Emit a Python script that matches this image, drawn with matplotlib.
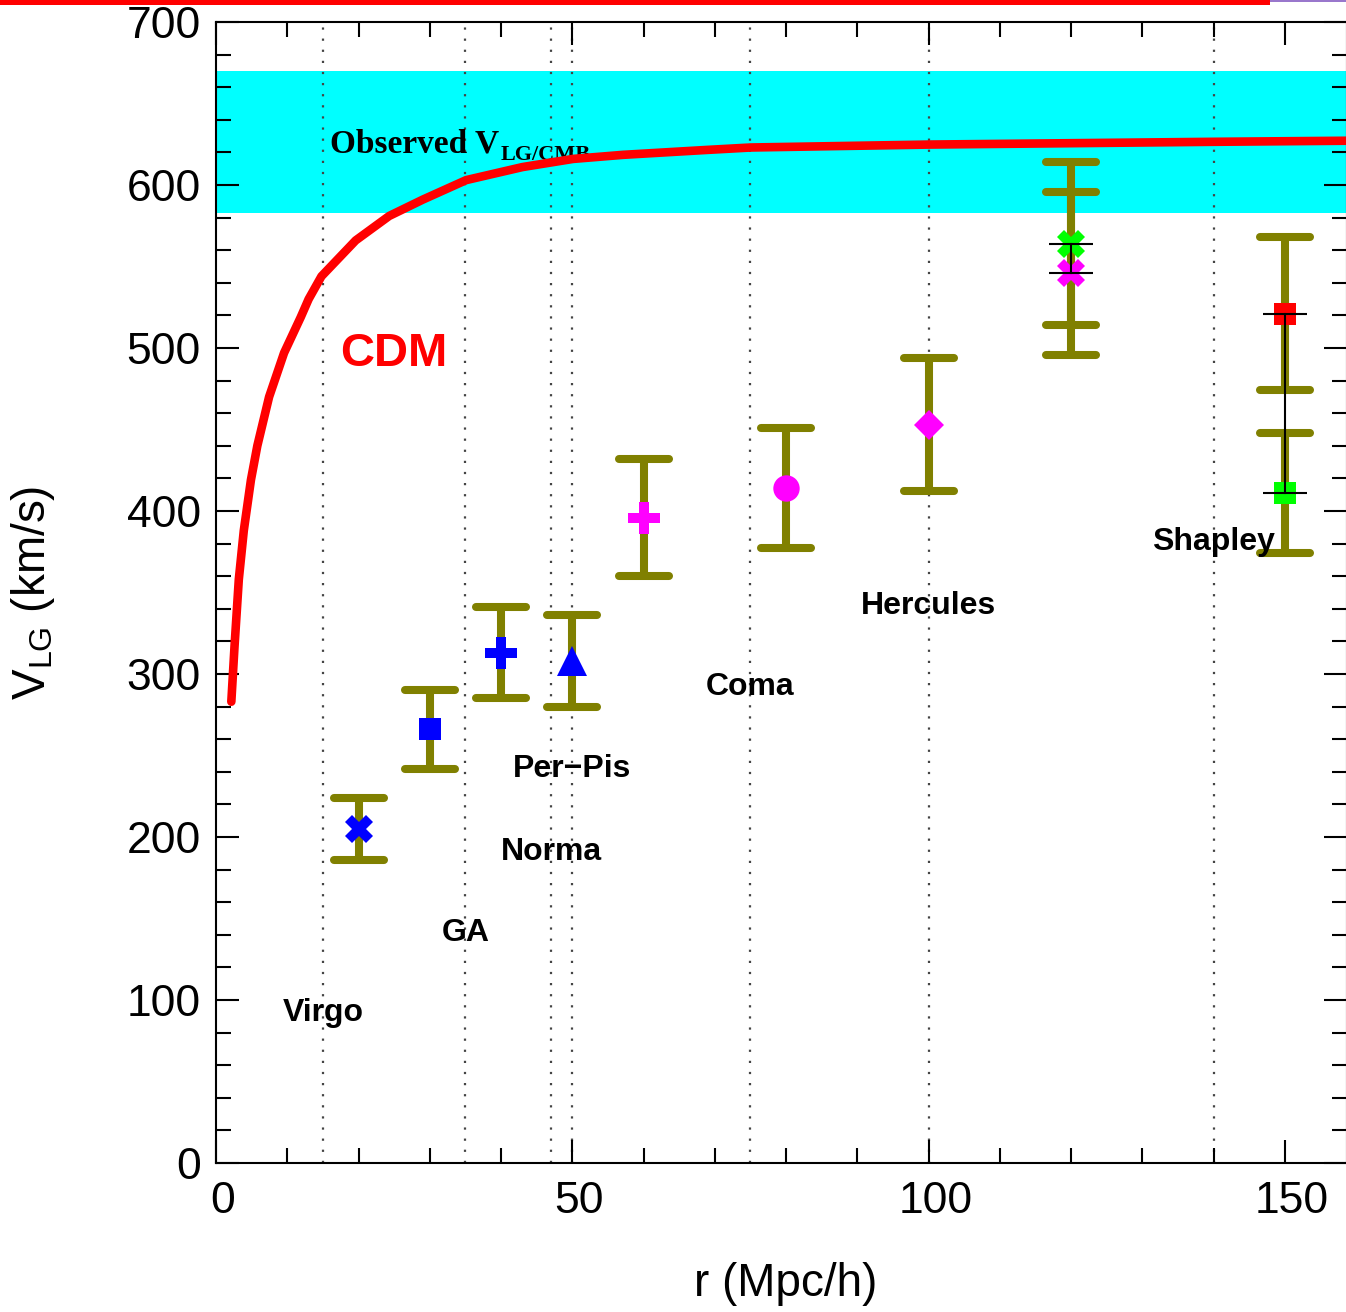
import matplotlib
matplotlib.use("Agg")
import matplotlib.pyplot as plt
import matplotlib.transforms as mtransforms
from matplotlib.ticker import MultipleLocator
from matplotlib.markers import MarkerStyle
from matplotlib.patches import Rectangle

plt.rcParams['font.family'] = ['Liberation Sans', 'DejaVu Sans']
plt.rcParams['mathtext.fontset'] = 'custom'
plt.rcParams['mathtext.rm'] = 'Liberation Sans'
plt.rcParams['mathtext.it'] = 'Liberation Sans:italic'
plt.rcParams['mathtext.bf'] = 'Liberation Sans:bold'

# CDM prediction curve
cdm_r = [2.15, 2.6, 3.2, 3.9, 4.9, 5.8, 7.45, 9.55, 11.9, 13.0, 14.8, 19.6, 24.3, 29.0,
         35.1, 43.0, 50.1, 57.1, 68.8, 75.0, 100.0, 140.0, 160.0]
cdm_v = [283, 317, 358, 388, 419, 440, 470, 497, 519, 530, 544, 566, 581, 591,
         603, 611, 616, 618.5, 621.5, 623, 624.8, 626.5, 627.2]

# observed LG velocity w.r.t. CMB
obs_low = 583
obs_high = 670

# measured bulk flows
sample_r = [20, 30, 40, 50, 60, 80, 100, 120, 120, 150, 150]
sample_v = [205, 266, 313, 308, 396, 414, 453, 546, 564, 521, 411]
sample_err = [19, 24, 28, 28, 36, 37, 41, 50, 50, 47, 37]
sample_marker = ['X', 's', 'P', '^', 'P', 'o', 'D', 'X', 'X', 's', 's']
sample_color = ['#0000ff', '#0000ff', '#0000ff', '#0000ff', '#ff00ff', '#ff00ff',
                '#ff00ff', '#ff00ff', '#00ff00', '#ff0000', '#00ff00']
sample_size = [20, 16, 23, 22, 23, 19, 15, 20, 20, 16, 16]

# pairs joined by thin black bars
pair_r = [120, 150]
pair_lo = [546, 411]
pair_hi = [564, 521]

# superclusters
names = ['Virgo', 'GA', 'Norma', 'Per\u2212Pis', 'Coma', 'Hercules', 'Shapley']
name_r = [15, 35, 47, 50, 75, 100, 140]
name_v = [87, 136, 186, 237, 287, 337, 376]

fig = plt.figure(figsize=(13.46, 13.12), dpi=100)
ax = fig.add_axes([216/1346, 149/1312, 1131/1346, 1141/1312])

ax.axhspan(obs_low, obs_high, color='#00ffff', lw=0, zorder=0.5)

for r in name_r:
    ax.axvline(r, color='#444444', lw=1.6, linestyle=(0, (1, 4)), zorder=1)

olive = '#808000'
for i in range(len(sample_r)):
    eb = ax.errorbar(sample_r[i], sample_v[i], yerr=sample_err[i], fmt='none',
                     ecolor=olive, elinewidth=5.8, capsize=18, capthick=5.8, zorder=2)
    for cap in eb.lines[1]:
        cap.set_marker(MarkerStyle('_', capstyle='round'))

for i in range(len(sample_r)):
    ax.plot(sample_r[i], sample_v[i], marker=sample_marker[i], color=sample_color[i],
            markersize=sample_size[i], markeredgewidth=0, linestyle='none', zorder=3)

for i in range(len(pair_r)):
    ax.plot([pair_r[i], pair_r[i]], [pair_lo[i], pair_hi[i]], color='black', lw=1.5,
            marker='_', markersize=32, markeredgewidth=1.5, zorder=4)

for n, r, v in zip(names, name_r, name_v):
    ax.text(r, v, n, fontsize=23, fontweight='bold', ha='center', va='baseline', zorder=4)

t = ax.text(16, 620, 'Observed V', fontfamily='Liberation Serif', fontweight='bold',
            fontsize=24, va='baseline', zorder=4)
ax.annotate('LG/CMB', xy=(1, 0), xycoords=t, xytext=(1, -4), textcoords='offset points',
            fontfamily='Liberation Serif', fontweight='bold', fontsize=16, va='bottom', zorder=4)

ax.plot(cdm_r, cdm_v, color='#ff0000', lw=6.2, solid_capstyle='round',
        solid_joinstyle='round', zorder=5)
ax.text(25, 489, 'CDM', color='#ff0000', fontsize=34, fontweight='bold', ha='center',
        va='baseline', zorder=5)

ax.set_xlim(0, 158.7)
ax.set_ylim(0, 700)
ax.xaxis.set_major_locator(MultipleLocator(50))
ax.xaxis.set_minor_locator(MultipleLocator(10))
ax.yaxis.set_major_locator(MultipleLocator(100))
ax.yaxis.set_minor_locator(MultipleLocator(20))
ax.tick_params(which='both', direction='in', top=True, right=True, width=1.5)
ax.tick_params(which='major', length=16.5, labelsize=32)
ax.tick_params(which='minor', length=11)
ax.tick_params(axis='x', which='major', pad=13)
ax.tick_params(axis='y', which='major', pad=11)
for s in ax.spines.values():
    s.set_linewidth(1.5)

shift = mtransforms.ScaledTranslation(7/100, 0, fig.dpi_scale_trans)
for lab in ax.get_xticklabels():
    lab.set_transform(lab.get_transform() + shift)

ax.set_xlabel('r (Mpc/h)', fontsize=33)
ax.xaxis.label.set_va('center')
ax.xaxis.set_label_coords(0.504, -0.106)
ax.set_ylabel(r'V$_{\mathrm{LG}}$ (km/s)', fontsize=33)
ax.yaxis.label.set_va('center')
ax.yaxis.set_label_coords(-0.1616, 0.5)

# slide decoration at the top edge
fig.add_artist(Rectangle((0, 1 - 5/1312), 1270/1346, 5/1312, transform=fig.transFigure,
                         color='#ff0000', lw=0))
fig.add_artist(Rectangle((1270/1346, 1 - 2/1312), 76/1346, 2/1312, transform=fig.transFigure,
                         color='#9977cc', lw=0))

fig.savefig('out.png', dpi=100)
